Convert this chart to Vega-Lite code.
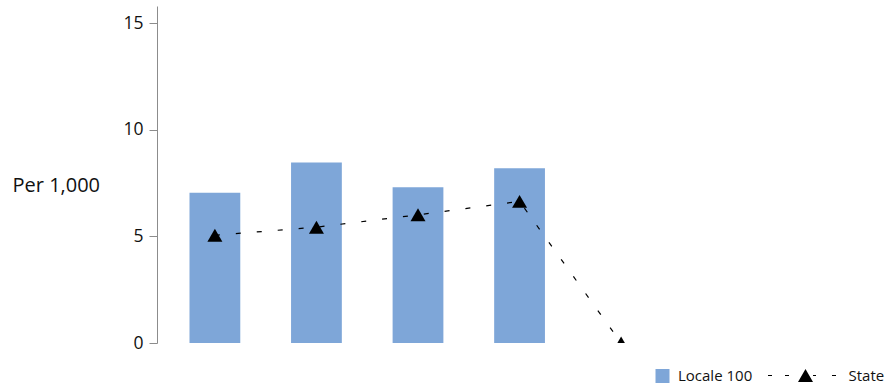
{
  "$schema": "https://vega.github.io/schema/vega-lite/v6.json",
  "autosize": "none",
  "width": 522,
  "height": 337,
  "padding": {"left": 157, "top": 6, "right": 206, "bottom": 43},
  "background": "white",
  "config": {
    "view": {"stroke": null},
    "font": "Open Sans"
  },
  "data": {
    "values": [
      {"cat": "1", "locale": 7.05, "state": 5.05},
      {"cat": "2", "locale": 8.46, "state": 5.43},
      {"cat": "3", "locale": 7.30, "state": 6.01},
      {"cat": "4", "locale": 8.19, "state": 6.64},
      {"cat": "5", "locale": null, "state": 0}
    ]
  },
  "encoding": {
    "x": {
      "field": "cat",
      "type": "nominal",
      "axis": null,
      "scale": {"type": "band", "paddingInner": 0.5, "paddingOuter": 0.32}
    }
  },
  "layer": [
    {
      "mark": {"type": "bar"},
      "encoding": {
        "y": {
          "field": "locale",
          "type": "quantitative",
          "scale": {"domain": [0, 15.8], "nice": false, "zero": true},
          "axis": {
            "values": [0, 5, 10, 15],
            "grid": false,
            "title": "Per 1,000",
            "titleAngle": 0,
            "titleAlign": "left",
            "titleBaseline": "alphabetic",
            "titleX": -145,
            "titleY": 185.3,
            "titleFont": "Open Sans",
            "titleFontSize": 20,
            "titleFontWeight": "normal",
            "titleColor": "#111111",
            "labelFont": "Open Sans",
            "labelFontSize": 17.5,
            "labelColor": "#111111",
            "labelPadding": 6,
            "tickSize": 8,
            "tickColor": "#8c8c8c",
            "domainColor": "#8c8c8c",
            "tickWidth": 1,
            "domainWidth": 1
          }
        },
        "color": {
          "datum": "Locale 100",
          "scale": {"range": ["#7EA6D8"]},
          "legend": {
            "orient": "none",
            "legendX": 498,
            "legendY": 362.5,
            "title": null,
            "padding": 0,
            "symbolType": "square",
            "symbolSize": 196,
            "symbolStrokeWidth": 0,
            "labelFont": "Open Sans",
            "labelFontSize": 15,
            "labelColor": "#111111",
            "labelOffset": 8
          }
        }
      }
    },
    {
      "mark": {"type": "line", "color": "black", "strokeWidth": 1.2},
      "encoding": {
        "y": {"field": "state", "type": "quantitative"},
        "strokeDash": {
          "datum": "State",
          "scale": {"range": [[5, 16]]},
          "legend": {
            "orient": "none",
            "legendX": 608.5,
            "legendY": 329.5,
            "title": null,
            "padding": 0,
            "symbolType": "M-0.9375,-0.0125H-0.8375V0.0125H-0.9375Z M-0.5125,-0.0125H-0.4125V0.0125H-0.5125Z M0.1875,-0.0125H0.2625V0.0125H0.1875Z M0.6625,-0.0125H0.7625V0.0125H0.6625Z M0,-0.1625L0.1875,0.1625L-0.1875,0.1625Z",
            "symbolSize": 6400,
            "symbolStrokeWidth": 0,
            "symbolFillColor": "black",
            "labelFont": "Open Sans",
            "labelFontSize": 15,
            "labelColor": "#111111",
            "labelOffset": 3,
            "encode": {
              "symbols": {
                "update": {
                  "shape": {"value": "M-0.9375,-0.0125H-0.8375V0.0125H-0.9375Z M-0.5125,-0.0125H-0.4125V0.0125H-0.5125Z M0.1875,-0.0125H0.2625V0.0125H0.1875Z M0.6625,-0.0125H0.7625V0.0125H0.6625Z M0,-0.1625L0.1875,0.1625L-0.1875,0.1625Z"},
                  "size": {"value": 6400},
                  "fill": {"value": "black"},
                  "fillOpacity": {"value": 1},
                  "opacity": {"value": 1},
                  "strokeWidth": {"value": 0}
                }
              }
            }
          }
        }
      }
    },
    {
      "mark": {"type": "point", "shape": "triangle-up", "filled": true, "color": "black", "opacity": 1, "size": 225, "clip": true},
      "encoding": {
        "y": {"field": "state", "type": "quantitative"}
      }
    }
  ]
}
